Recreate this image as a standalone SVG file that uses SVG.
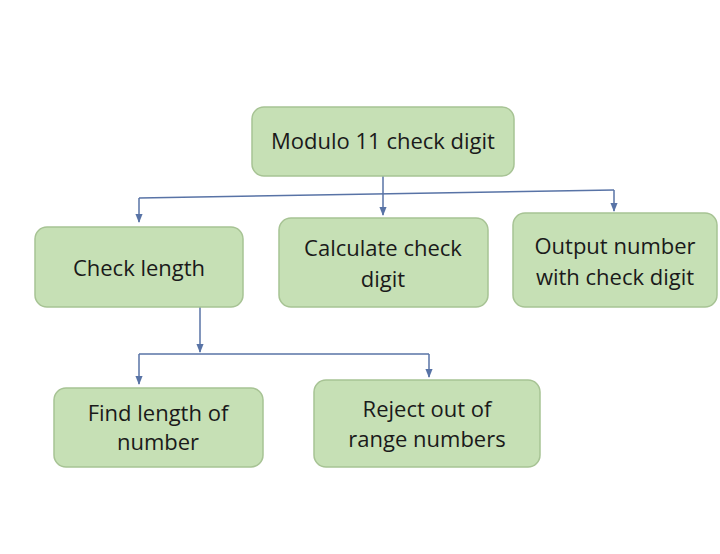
<svg xmlns="http://www.w3.org/2000/svg" width="720" height="554" viewBox="0 0 720 554">
<style>
.b{fill:#c6e0b5;stroke:#a7c394;stroke-width:1.5}
.t{font-family:"Open Sans","Liberation Sans",sans-serif;font-size:22px;fill:#1a1a1a;text-anchor:middle}
.c{stroke:#5873a6;stroke-width:1.5;fill:none}
</style>
<defs><marker id="a" viewBox="0 0 10 10" refX="9" refY="5" markerWidth="6" markerHeight="6" orient="auto"><path d="M0,1 L10,5 L0,9z" fill="#5873a6"/></marker></defs>
<rect width="720" height="554" fill="#fff"/>
<g id="connectors">
<path class="c" d="M139,198 L614,190"/>
<path class="c" d="M139,198 V222" marker-end="url(#a)"/>
<path class="c" d="M383,176 V215" marker-end="url(#a)"/>
<path class="c" d="M614,190 V211" marker-end="url(#a)"/>
<path class="c" d="M200,307 V352" marker-end="url(#a)"/>
<path class="c" d="M139,354 H429"/>
<path class="c" d="M139,354 V384" marker-end="url(#a)"/>
<path class="c" d="M429,354 V377" marker-end="url(#a)"/>
</g>
<g id="root"><rect class="b" x="252" y="107" width="262" height="69" rx="12"/><text class="t" x="383" y="149">Modulo 11 check digit</text></g>
<g id="checklen"><rect class="b" x="35" y="227" width="208" height="80" rx="12"/><text class="t" x="139" y="276">Check length</text></g>
<g id="calc"><rect class="b" x="279" y="218" width="209" height="89" rx="12"/><text class="t" x="383" y="256">Calculate check</text><text class="t" x="383" y="287">digit</text></g>
<g id="output"><rect class="b" x="513" y="213" width="204" height="94" rx="12"/><text class="t" x="615" y="254">Output number</text><text class="t" x="615" y="285">with check digit</text></g>
<g id="find"><rect class="b" x="54" y="388" width="209" height="79" rx="12"/><text class="t" x="158" y="421">Find length of</text><text class="t" x="158" y="450">number</text></g>
<g id="reject"><rect class="b" x="314" y="380" width="226" height="87" rx="12"/><text class="t" x="427" y="417">Reject out of</text><text class="t" x="427" y="447">range numbers</text></g>
</svg>
